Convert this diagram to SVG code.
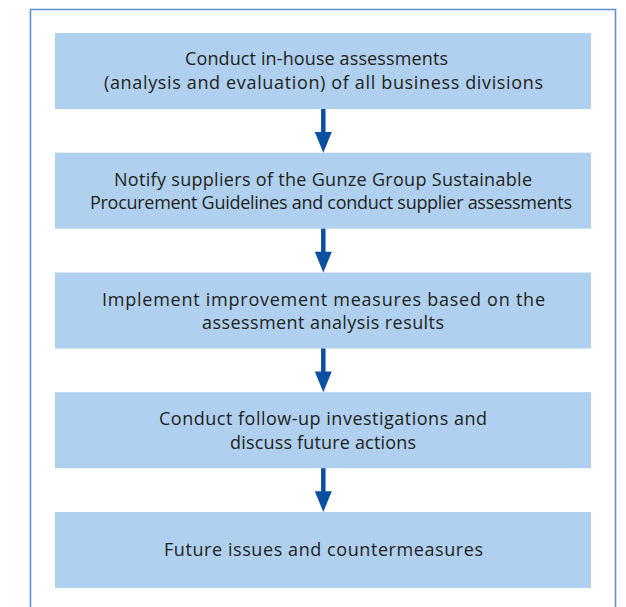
<svg xmlns="http://www.w3.org/2000/svg" width="626" height="607" viewBox="0 0 626 607">
<style>
.box{fill:#afd0ee}
.t{font-family:"Open Sans","Liberation Sans",sans-serif;font-size:18px;fill:#231f20;text-anchor:middle}
.sh{stroke:#0b4fa0;stroke-width:4.5;fill:none}
.hd{fill:#0b4fa0}
</style>
<rect width="626" height="607" fill="#fff"/>
<path d="M30.5 607 V9.5 H615.5 V607" fill="none" stroke="#5a8fd2" stroke-width="1.6"/>
<g id="n1"><rect class="box" x="55" y="33" width="536" height="76"/>
<text class="t" x="316.5" y="65" textLength="263" lengthAdjust="spacing">Conduct in-house assessments</text>
<text class="t" x="323.5" y="89" textLength="439" lengthAdjust="spacing">(analysis and evaluation) of all business divisions</text></g>
<g id="n2"><rect class="box" x="55" y="152.7" width="536" height="76"/>
<text class="t" x="323" y="186" textLength="418" lengthAdjust="spacing">Notify suppliers of the Gunze Group Sustainable</text>
<text class="t" x="331" y="209" textLength="482" lengthAdjust="spacing">Procurement Guidelines and conduct supplier assessments</text></g>
<g id="n3"><rect class="box" x="55" y="272.5" width="536" height="76"/>
<text class="t" x="323.5" y="305.5" textLength="443" lengthAdjust="spacing">Implement improvement measures based on the</text>
<text class="t" x="323" y="329" textLength="242" lengthAdjust="spacing">assessment analysis results</text></g>
<g id="n4"><rect class="box" x="55" y="392.2" width="536" height="76"/>
<text class="t" x="323" y="425" textLength="328" lengthAdjust="spacing">Conduct follow-up investigations and</text>
<text class="t" x="323" y="449" textLength="186" lengthAdjust="spacing">discuss future actions</text></g>
<g id="n5"><rect class="box" x="55" y="512" width="536" height="76"/>
<text class="t" x="323.5" y="556" textLength="319" lengthAdjust="spacing">Future issues and countermeasures</text></g>
<g id="connectors">
<line class="sh" x1="323.3" y1="109" x2="323.3" y2="133"/><polygon class="hd" points="314.8,132 331.8,132 323.3,152.7"/>
<line class="sh" x1="323.3" y1="228.7" x2="323.3" y2="253"/><polygon class="hd" points="314.8,251.8 331.8,251.8 323.3,272.5"/>
<line class="sh" x1="323.3" y1="348.5" x2="323.3" y2="372"/><polygon class="hd" points="314.8,371.5 331.8,371.5 323.3,392.2"/>
<line class="sh" x1="323.3" y1="468.2" x2="323.3" y2="492"/><polygon class="hd" points="314.8,491.3 331.8,491.3 323.3,512"/>
</g>
</svg>
